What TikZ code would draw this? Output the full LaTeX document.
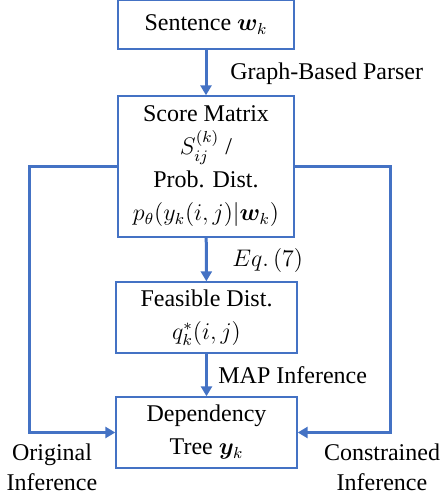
\documentclass[tikz,border=0pt]{standalone}
\usepackage{amsmath,amssymb,bm}
\usepackage{fontspec}
\setmainfont{Liberation Serif}
\usepackage{tikz}
\usetikzlibrary{arrows.meta}
\usetikzlibrary{positioning}
\definecolor{flowblue}{HTML}{4472C4}
\tikzstyle{blk}=[draw=flowblue,line width=0.7pt,align=center,inner sep=0pt,font=\fontsize{12}{16.5}\selectfont]
\tikzstyle{flow}=[draw=flowblue,line width=1.5pt,-{Triangle[length=5pt,width=5.5pt]}]
\tikzstyle{lbl}=[inner sep=0pt,font=\fontsize{12}{15}\selectfont]

\begin{document}
\begin{tikzpicture}[x=0.5pt,y=-0.5pt]
\useasboundingbox (0,0) rectangle (441,499);
\node[blk,minimum width=88pt,minimum height=24.5pt] at (206,24.5)(sent){Sentence $\bm{w}_k$};
\node[blk,minimum width=88pt,minimum height=70.5pt] at (206,166.5)(score){Score Matrix\\ $S_{ij}^{(k)}$ /\\ Prob. Dist.\\ $p_\theta(y_k(i,j)|\bm{w}_k)$};
\node[blk,minimum width=90.5pt,minimum height=35.5pt] at (206.5,317.5)(feas){Feasible Dist.\\ $q_k^*(i,j)$};
\node[blk,minimum width=90.5pt,minimum height=35.5pt] at (206.5,432.5)(tree){Dependency\\ Tree $\bm{y}_k$};
\coordinate (lbend) at (29,432.5);
\coordinate (rbend) at (390,432.5);

\draw[flow] (sent) -- (score);
\draw[flow] (score) -- (feas);
\draw[flow] (feas) -- (tree);
\draw[flow] (score.west) -| (lbend) -- (tree.west);
\draw[flow] (score.east) -| (rbend) -- (tree.east);

\node[lbl,anchor=west] at (230,74)(gbp){Graph-Based Parser};
\node[lbl,anchor=west] at (232,260)(eq){$Eq.\,(7)$};
\node[lbl,anchor=west] at (218,375)(map){MAP Inference};
\node[lbl,align=center] at (52,467)(orig){Original\\ Inference};
\node[lbl,align=center] at (382,467)(cons){Constrained\\ Inference};
\end{tikzpicture}
\end{document}
